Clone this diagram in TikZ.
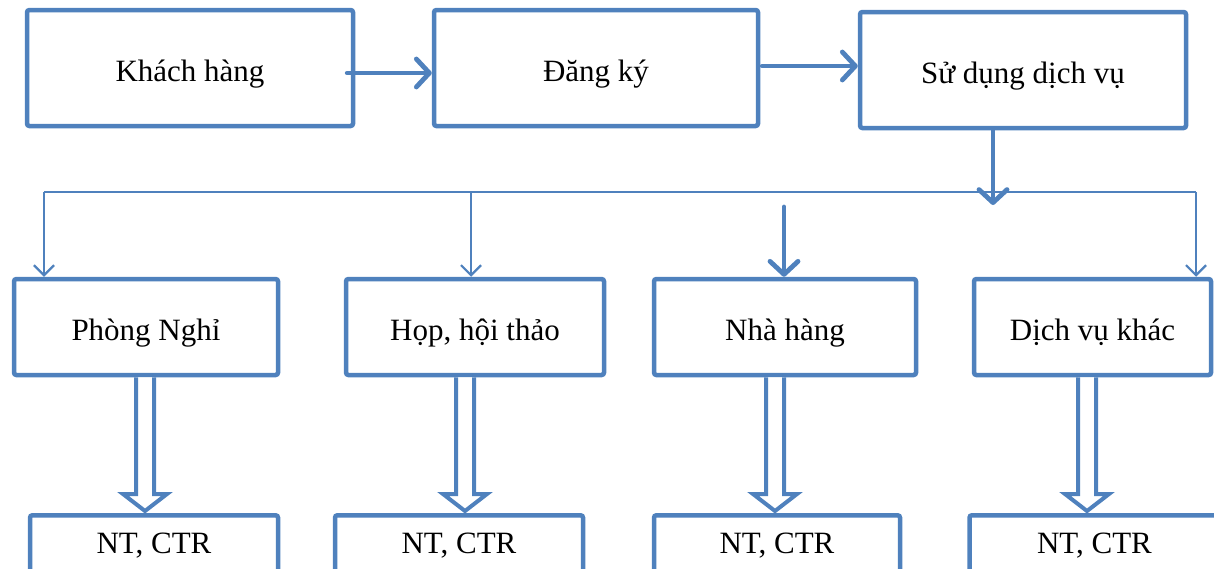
\documentclass[tikz,border=0pt]{standalone}
\usepackage{fontspec}
\setmainfont{Liberation Serif}
\usetikzlibrary{arrows.meta,calc}
\definecolor{ob}{HTML}{4F81BD}
\tikzset{
  box/.style={draw=ob, line width=2.25pt, rounded corners=1.2pt, fill=white, inner sep=0pt,
    font=\fontsize{15.5pt}{18pt}\selectfont},
  cbox/.style={box, text height=14pt, text depth=1pt},
  bigarr/.style={draw=ob, line width=2.4pt, line cap=round,
    -{Straight Barb[length=6.5pt,width=14pt,line width=2.4pt,round]}},
  thinarr/.style={draw=ob, line width=1.1pt,
    -{Straight Barb[length=5pt,width=10pt,line width=1.1pt]}},
  busline/.style={draw=ob, line width=1.1pt},
  hollow/.style={draw=ob, line width=2pt, fill=white, line join=miter}
}
\begin{document}
\begin{tikzpicture}[x=0.5pt,y=-0.5pt]
\useasboundingbox (0,0) rectangle (1214,568);
\begin{scope}
\clip (0,0) rectangle (1214,568);
% row 1
\node[cbox, minimum width=163pt, minimum height=58pt] (kh) at (190,68) {Khách hàng};
\node[cbox, minimum width=162pt, minimum height=58pt] (dk) at (596,68) {Đăng ký};
\node[cbox, minimum width=163pt, minimum height=58pt] (sd) at (1023,70) {Sử dụng dịch vụ};
% row 2
\node[cbox, minimum width=132pt, minimum height=48pt] (pn) at (146,327) {Phòng Nghỉ};
\node[cbox, minimum width=129pt, minimum height=48pt] (hh) at (475,327) {Họp, hội thảo};
\node[cbox, minimum width=131pt, minimum height=48pt] (nh) at (785,327) {Nhà hàng};
\node[cbox, minimum width=118.5pt, minimum height=48pt] (dv) at (1092.5,327) {Dịch vụ khác};
% row 3
\node[box, anchor=north, minimum width=124pt, text height=19pt, text depth=32pt] (n1) at (154,513) {NT, CTR};
\node[box, anchor=north, minimum width=124pt, text height=19pt, text depth=32pt] (n2) at (459,513) {NT, CTR};
\node[box, anchor=north, minimum width=123pt, text height=19pt, text depth=32pt] (n3) at (777,513) {NT, CTR};
\node[box, anchor=north, minimum width=125pt, text height=19pt, text depth=32pt] (n4) at (1094.5,513) {NT, CTR};
% row 1 arrows
\draw[bigarr] ([xshift=-4pt,yshift=-2.5pt]kh.east) -- ([yshift=-2.5pt]dk.west);
\draw[bigarr] ([xshift=1pt,yshift=1pt]dk.east) -- ([yshift=2pt]sd.west);
% down from Su dung
\coordinate (sdx) at (993,205);
\draw[bigarr] (sdx |- sd.south) -- (sdx);
% bus
\coordinate (busL) at (44,192);
\coordinate (busM) at (471,192);
\coordinate (busR) at (1196,192);
\draw[busline] (busL) -- (busR);
\draw[thinarr] (busL) -- (busL |- pn.north);
\draw[thinarr] (busM) -- (busM |- hh.north);
\draw[thinarr] (busR) -- (busR |- dv.north);
\coordinate (nhin) at (784,207);
\draw[bigarr] (nhin) -- (nhin |- nh.north);
% hollow arrows
\foreach \a/\b/\c in {pn/n1/145, hh/n2/465, nh/n3/775, dv/n4/1087}{
  \coordinate (s) at (\c,0);
  \draw[hollow] ($(s |- \a.south)+(-9,0)$) -- ($(s |- \b.north)+(-9,-19)$) -- ($(s |- \b.north)+(-22,-19)$)
     -- ($(s |- \b.north)+(0,-2)$) -- ($(s |- \b.north)+(22,-19)$) -- ($(s |- \b.north)+(9,-19)$)
     -- ($(s |- \a.south)+(9,0)$);
}
\end{scope}
\end{tikzpicture}
\end{document}
